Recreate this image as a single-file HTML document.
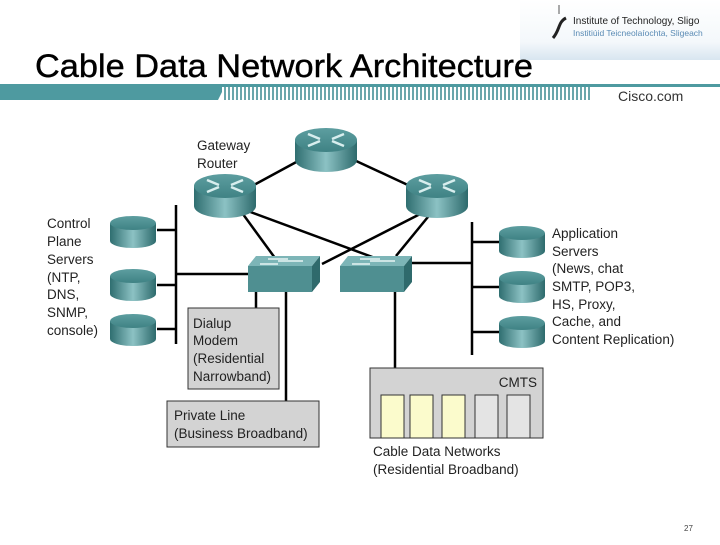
<!DOCTYPE html>
<html><head><meta charset="utf-8"><style>
body{margin:0;background:#fff}
svg text{font-family:"Liberation Sans",sans-serif}
</style></head><body>
<svg width="720" height="540" viewBox="0 0 720 540" xmlns="http://www.w3.org/2000/svg">
<defs>
<linearGradient id="cyl" x1="0" x2="1">
<stop offset="0" stop-color="#2f6e70"/><stop offset="0.5" stop-color="#8cc2c4"/><stop offset="1" stop-color="#2d6a6c"/>
</linearGradient>
<linearGradient id="top" x1="0" y1="0" x2="0" y2="1">
<stop offset="0" stop-color="#5d9ea0"/><stop offset="1" stop-color="#3f8284"/>
</linearGradient>
<linearGradient id="logo" x1="0" y1="0" x2="0" y2="1">
<stop offset="0" stop-color="#fff"/><stop offset="0.7" stop-color="#f4f8fb"/><stop offset="1" stop-color="#d8e6f0"/>
</linearGradient>
<pattern id="stripes" width="4" height="20" patternUnits="userSpaceOnUse">
<rect width="4" height="20" fill="#fff"/><rect width="2" height="20" fill="#6aa6ab"/>
</pattern>
<g id="router">
<path d="M-31,-8 L-31,12 A31,12 0 0 0 31,12 L31,-8 Z" fill="url(#cyl)"/>
<ellipse cx="0" cy="-8" rx="31" ry="12" fill="url(#top)"/>
<g stroke="#d8eeee" stroke-width="2.5" fill="none">
<path d="M-18,-14 L-6,-9 M18,-14 L6,-9 M-18,-2 L-6,-7 M18,-2 L6,-7"/>
</g>
</g>
<g id="srv">
<path d="M-23,-8 L-23,10 A23,7 0 0 0 23,10 L23,-8 Z" fill="url(#cyl)"/>
<ellipse cx="0" cy="-8" rx="23" ry="7" fill="url(#top)"/>
</g>
<g id="sw">
<polygon points="8,0 72,0 64,10 0,10" fill="#7db5b7"/>
<rect x="0" y="10" width="64" height="26" fill="#4f8f91"/>
<polygon points="64,10 72,0 72,26 64,36" fill="#2f6a6c"/>
<g stroke="#e6f4f4" stroke-width="1.5"><path d="M20,3 L40,3 M30,5 L55,5 M12,8 L30,8"/></g>
</g>
</defs>

<!-- header -->
<rect x="520" y="0" width="200" height="60" fill="url(#logo)"/>
<line x1="559" y1="5" x2="559" y2="14" stroke="#555"/>
<path d="M553,38 C560,30 558,22 566,18" stroke="#222" stroke-width="3" fill="none"/>
<text x="573" y="24" font-size="10" fill="#222">Institute of Technology, Sligo</text>
<text x="573" y="36" font-size="8.5" fill="#5a8bb5">Institiúid Teicneolaíochta, Sligeach</text>
<text x="35" y="77" font-size="32" fill="#000" textLength="498" lengthAdjust="spacingAndGlyphs" stroke="#000" stroke-width="0.4">Cable Data Network Architecture</text>
<rect x="0" y="84" width="720" height="3" fill="#4e9aa0"/>
<polygon points="0,84 226,84 218,100 0,100" fill="#4e9aa0"/>
<rect x="222" y="87" width="370" height="13" fill="url(#stripes)"/>
<text x="618" y="101" font-size="14" fill="#333">Cisco.com</text>

<!-- lines -->
<g stroke="#000" stroke-width="2.5" fill="none">
<line x1="300" y1="160" x2="252" y2="186"/>
<line x1="354" y1="160" x2="410" y2="186"/>
<line x1="240" y1="210" x2="275" y2="258"/>
<line x1="245" y1="210" x2="375" y2="258"/>
<line x1="428" y1="210" x2="322" y2="264"/>
<line x1="432" y1="212" x2="396" y2="256"/>
<line x1="176" y1="205" x2="176" y2="344"/>
<line x1="157" y1="230" x2="176" y2="230"/>
<line x1="157" y1="285" x2="176" y2="285"/>
<line x1="157" y1="329" x2="176" y2="329"/>
<line x1="176" y1="274" x2="250" y2="274"/>
<line x1="472" y1="222" x2="472" y2="355"/>
<line x1="472" y1="242" x2="500" y2="242"/>
<line x1="472" y1="287" x2="500" y2="287"/>
<line x1="472" y1="332" x2="500" y2="332"/>
<line x1="412" y1="263" x2="472" y2="263"/>
<line x1="256" y1="290" x2="256" y2="308"/>
<line x1="286" y1="290" x2="286" y2="401"/>
<line x1="395" y1="290" x2="395" y2="368"/>
</g>

<use href="#router" x="326" y="148"/>
<use href="#router" x="225" y="194"/>
<use href="#router" x="437" y="194"/>
<use href="#sw" x="248" y="256"/>
<use href="#sw" x="340" y="256"/>
<use href="#srv" x="133" y="231"/>
<use href="#srv" x="133" y="284"/>
<use href="#srv" x="133" y="329"/>
<use href="#srv" x="522" y="241"/>
<use href="#srv" x="522" y="286"/>
<use href="#srv" x="522" y="331"/>

<text font-size="13.5" fill="#222">
<tspan x="197" y="150">Gateway</tspan><tspan x="197" y="168">Router</tspan>
</text>
<text font-size="13.5" fill="#222">
<tspan x="47" y="228">Control</tspan><tspan x="47" y="246">Plane</tspan><tspan x="47" y="264">Servers</tspan><tspan x="47" y="282">(NTP,</tspan><tspan x="47" y="299">DNS,</tspan><tspan x="47" y="317">SNMP,</tspan><tspan x="47" y="335">console)</tspan>
</text>
<text font-size="13.5" fill="#222">
<tspan x="552" y="238">Application</tspan><tspan x="552" y="256">Servers</tspan><tspan x="552" y="273">(News, chat</tspan><tspan x="552" y="291">SMTP, POP3,</tspan><tspan x="552" y="309">HS, Proxy,</tspan><tspan x="552" y="326">Cache, and</tspan><tspan x="552" y="344">Content Replication)</tspan>
</text>

<rect x="188" y="308" width="91" height="81" fill="#d3d3d3" stroke="#333"/>
<text font-size="13.5" fill="#222"><tspan x="193" y="328">Dialup</tspan><tspan x="193" y="345">Modem</tspan><tspan x="193" y="363">(Residential</tspan><tspan x="193" y="381">Narrowband)</tspan></text>
<rect x="167" y="401" width="152" height="46" fill="#d3d3d3" stroke="#333"/>
<text font-size="13.5" fill="#222"><tspan x="174" y="420">Private Line</tspan><tspan x="174" y="438">(Business Broadband)</tspan></text>

<rect x="370" y="368" width="173" height="70" fill="#d3d3d3" stroke="#333"/>
<text x="537" y="387" font-size="13.5" fill="#222" text-anchor="end">CMTS</text>
<g stroke="#333">
<rect x="381" y="395" width="23" height="43" fill="#fbfbcc"/>
<rect x="410" y="395" width="23" height="43" fill="#fbfbcc"/>
<rect x="442" y="395" width="23" height="43" fill="#fbfbcc"/>
<rect x="475" y="395" width="23" height="43" fill="#e4e4e4"/>
<rect x="507" y="395" width="23" height="43" fill="#e4e4e4"/>
</g>
<text font-size="13.5" fill="#222"><tspan x="373" y="456">Cable Data Networks</tspan><tspan x="373" y="474">(Residential Broadband)</tspan></text>

<text x="684" y="531" font-size="8" fill="#444">27</text>
</svg>
</body></html>
